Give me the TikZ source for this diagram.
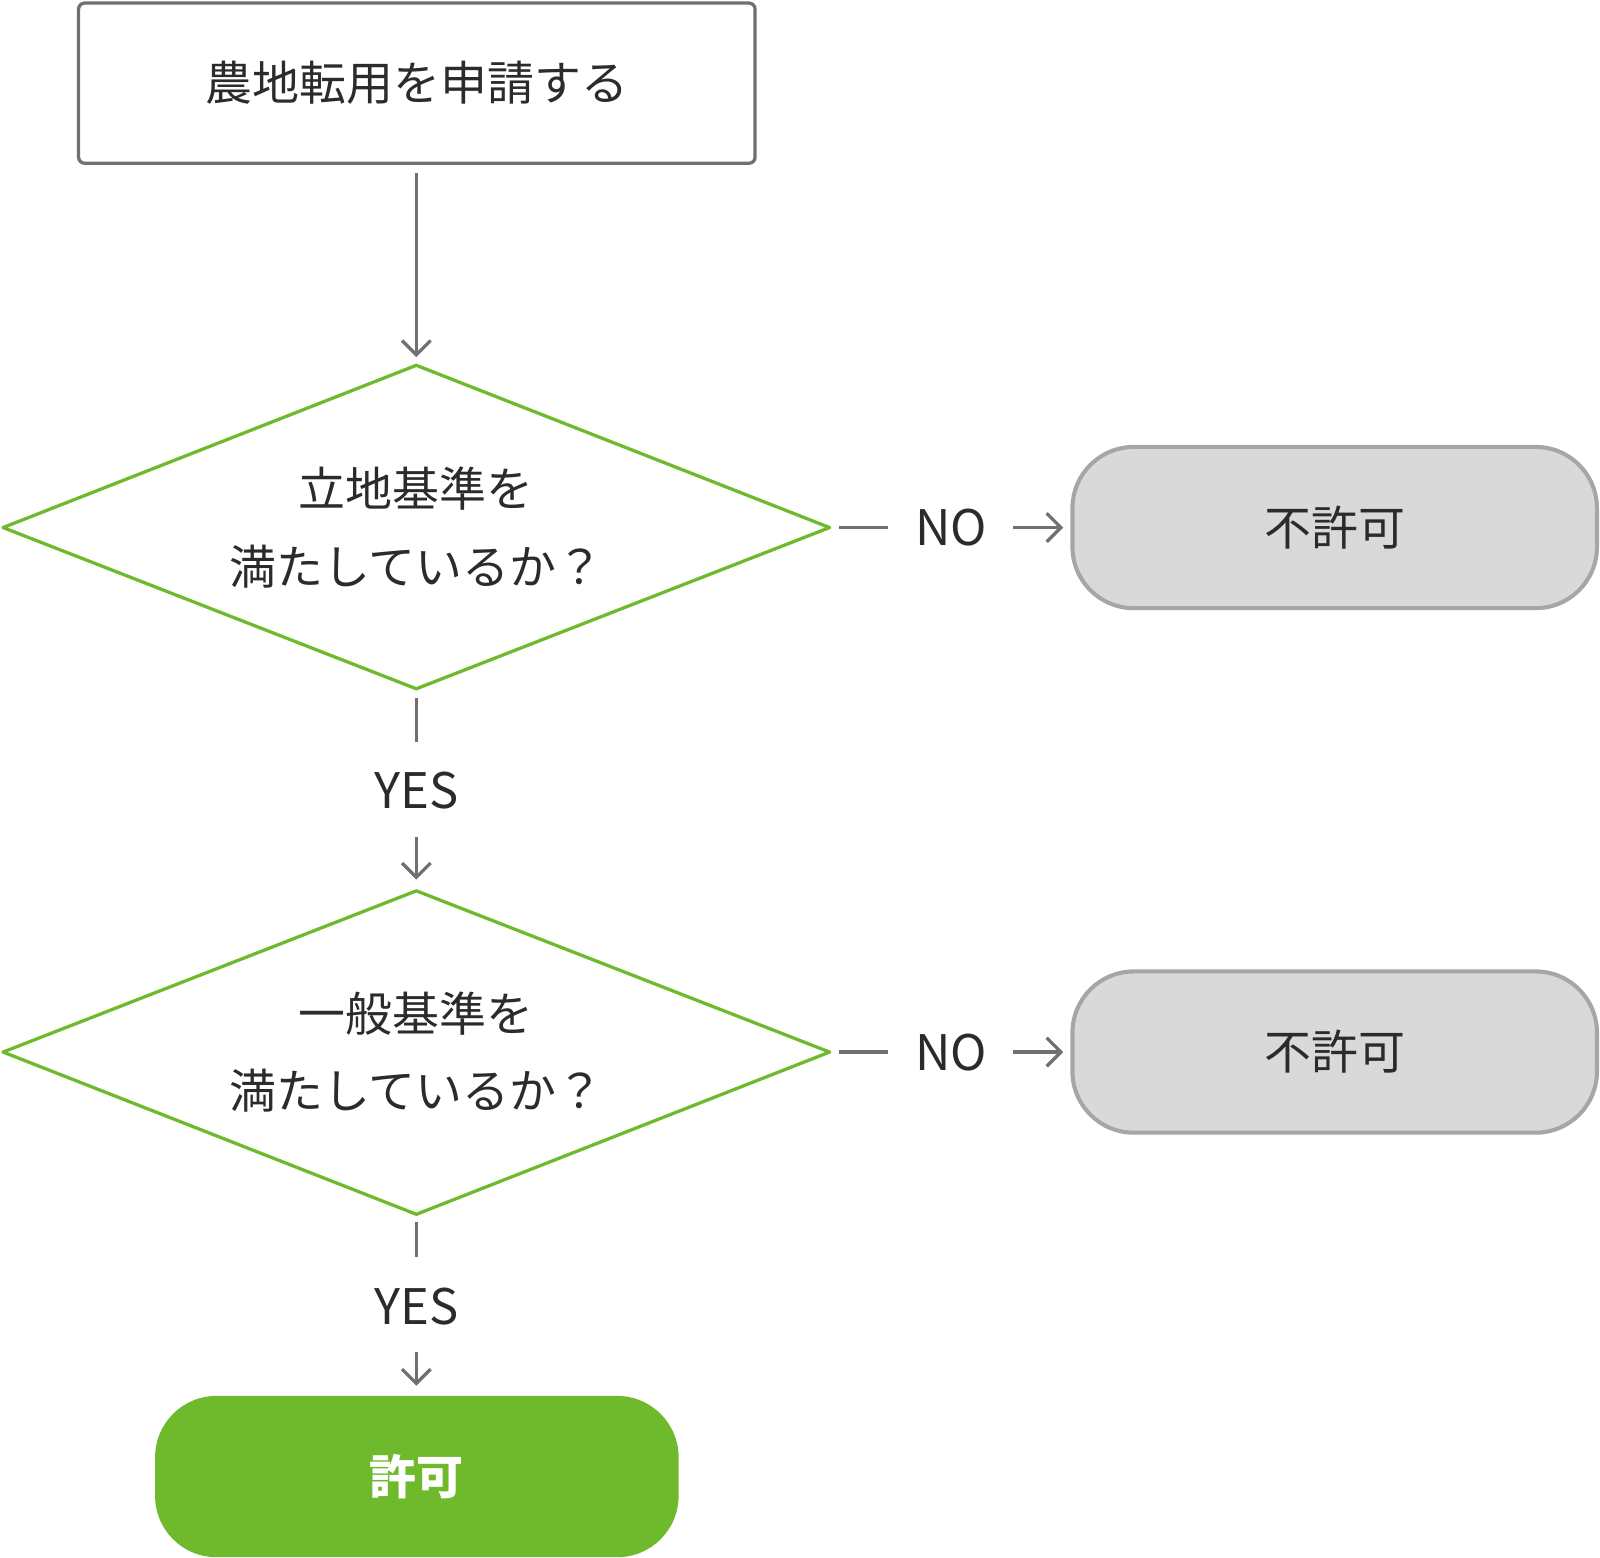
\documentclass[tikz,border=0pt]{standalone}
\usepackage{fontspec}
\setmainfont{Noto Sans CJK JP}
\usetikzlibrary{arrows.meta}
\definecolor{grn}{HTML}{6FB92C}
\definecolor{gline}{HTML}{707070}
\definecolor{gfill}{HTML}{D9D9D9}
\definecolor{gbord}{HTML}{A6A6A6}
\definecolor{txt}{HTML}{2B2B2B}
\begin{document}
\begin{tikzpicture}[x=0.5pt,y=-0.5pt,
  conn/.style={draw=gline,line width=1.6pt,-{Straight Barb[length=7pt,width=14pt,line width=1.6pt]}},
  seg/.style={draw=gline,line width=1.6pt},
  jp/.style={font=\fontsize{23}{38}\selectfont,text=txt,align=center},
  lbl/.style={font=\fontsize{24}{28}\selectfont,text=txt,inner sep=0pt}]
\useasboundingbox (0,0) rectangle (1568,1526);
\node[jp,draw=gline,line width=1.6pt,rounded corners=3pt,minimum width=331.5pt,minimum height=78.5pt] (start) at (408.5,81.5) {農地転用を申請する};
% diamond 1
\coordinate (d1t) at (408,358); \coordinate (d1b) at (408,675);
\coordinate (d1l) at (3,517); \coordinate (d1r) at (813,517);
\draw[grn,line width=1.6pt,line join=round] (d1t)--(d1r)--(d1b)--(d1l)--cycle;
\node[jp] (q1) at (408,517) {立地基準を\\満たしているか？};
\coordinate (a1s) at (408,170); \coordinate (a1e) at (408,350);
\draw[conn] (a1s)--(a1e);
% NO 1
\node[lbl] (no1) at (932,517) {NO};
\coordinate (n1a) at (822,517); \coordinate (n1b) at (870,517);
\coordinate (n1c) at (993,517); \coordinate (n1d) at (1042,517);
\draw[seg] (n1a)--(n1b); \draw[conn] (n1c)--(n1d);
\node[jp,fill=gfill,draw=gbord,line width=2pt,rounded corners=30pt,minimum width=257pt,minimum height=79pt] (r1) at (1308,517) {不許可};
% YES 1
\coordinate (y1a) at (408,684); \coordinate (y1b) at (408,727);
\draw[seg] (y1a)--(y1b);
\node[lbl] (yes1) at (408,775) {YES};
\coordinate (y1c) at (408,820); \coordinate (y1d) at (408,862);
\draw[conn] (y1c)--(y1d);
% diamond 2
\coordinate (d2t) at (408,873); \coordinate (d2b) at (408,1190);
\coordinate (d2l) at (3,1031); \coordinate (d2r) at (813,1031);
\draw[grn,line width=1.6pt,line join=round] (d2t)--(d2r)--(d2b)--(d2l)--cycle;
\node[jp] (q2) at (408,1031) {一般基準を\\満たしているか？};
% NO 2
\node[lbl] (no2) at (932,1031) {NO};
\coordinate (n2a) at (822,1031); \coordinate (n2b) at (870,1031);
\coordinate (n2c) at (993,1031); \coordinate (n2d) at (1042,1031);
\draw[seg] (n2a)--(n2b); \draw[conn] (n2c)--(n2d);
\node[jp,fill=gfill,draw=gbord,line width=2pt,rounded corners=30pt,minimum width=257pt,minimum height=79pt] (r2) at (1308,1031) {不許可};
% YES 2
\coordinate (y2a) at (408,1198); \coordinate (y2b) at (408,1232);
\draw[seg] (y2a)--(y2b);
\node[lbl] (yes2) at (408,1280) {YES};
\coordinate (y2c) at (408,1325); \coordinate (y2d) at (408,1358);
\draw[conn] (y2c)--(y2d);
\node[jp,text=white,font=\fontsize{23}{28}\selectfont\bfseries,fill=grn,rounded corners=30pt,minimum width=256.5pt,minimum height=79pt,inner sep=0pt] (ok) at (408.5,1447) {許可};
\end{tikzpicture}
\end{document}
